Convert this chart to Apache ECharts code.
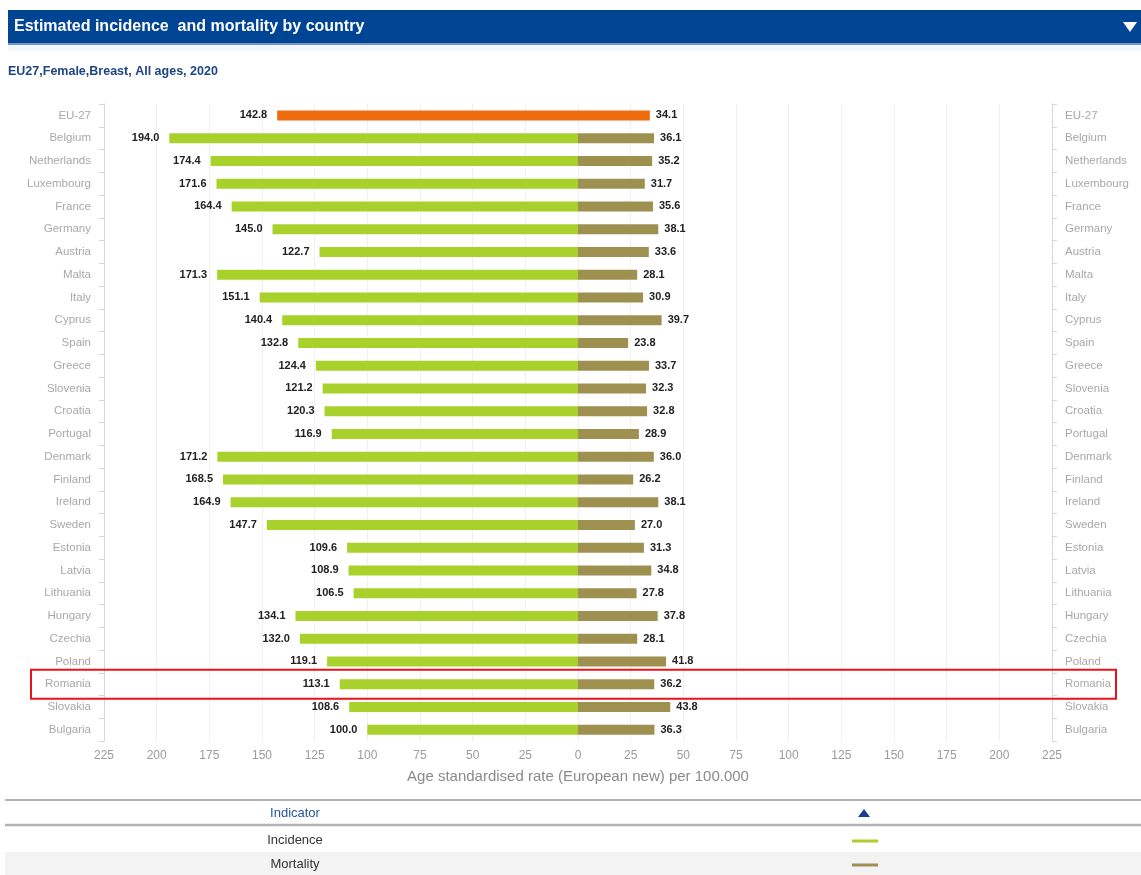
<!DOCTYPE html>
<html>
<head>
<meta charset="utf-8">
<title>Estimated incidence and mortality by country</title>
<script src="https://cdn.jsdelivr.net/npm/echarts@6/dist/echarts.min.js"></script>
<style>
  html, body { margin: 0; padding: 0; background: #fff; }
  #main { width: 1141px; height: 875px; }
</style>
</head>
<body>
<div id="main"></div>
<script>
// countries, top to bottom
var countries = ['EU-27', 'Belgium', 'Netherlands', 'Luxembourg', 'France', 'Germany', 'Austria',
  'Malta', 'Italy', 'Cyprus', 'Spain', 'Greece', 'Slovenia', 'Croatia', 'Portugal', 'Denmark',
  'Finland', 'Ireland', 'Sweden', 'Estonia', 'Latvia', 'Lithuania', 'Hungary', 'Czechia',
  'Poland', 'Romania', 'Slovakia', 'Bulgaria']
// age standardised rate per 100.000
var incidence = [142.8, 194.0, 174.4, 171.6, 164.4, 145.0, 122.7, 171.3, 151.1, 140.4, 132.8, 124.4,
  121.2, 120.3, 116.9, 171.2, 168.5, 164.9, 147.7, 109.6, 108.9, 106.5, 134.1, 132.0, 119.1,
  113.1, 108.6, 100.0]
var mortality = [34.1, 36.1, 35.2, 31.7, 35.6, 38.1, 33.6, 28.1, 30.9, 39.7, 23.8, 33.7, 32.3,
  32.8, 28.9, 36.0, 26.2, 38.1, 27.0, 31.3, 34.8, 27.8, 37.8, 28.1, 41.8, 36.2, 43.8, 36.3]
var highlightCountry = 'Romania'

var FONT = '"Liberation Sans", Arial, sans-serif'
var GREEN = '#a9d12b'
var OLIVE = '#9e9150'
var ORANGE = '#ee6c0e'

var chart = echarts.init(document.getElementById('main'))

function barItems(values, sign, color) {
  return values.map(function(v, i) {
    return {
      value: sign * v,
      itemStyle: { color: countries[i] === 'EU-27' ? ORANGE : color }
    }
  })
}

var yAxisBase = {
  type: 'category',
  data: countries,
  inverse: true,
  axisLine: { show: true, onZero: false, lineStyle: { color: '#d6d6d6' } },
  axisTick: { show: true, length: 5, lineStyle: { color: '#d6d6d6' } },
  axisLabel: { color: '#a8a8a8', fontSize: 11.5, fontFamily: FONT, margin: 13 },
  splitLine: { show: false }
}

var option = {
  animation: false,
  textStyle: { fontFamily: FONT },
  grid: { left: 104, right: 89, top: 104, bottom: 134, containLabel: false },
  xAxis: {
    type: 'value',
    min: -225,
    max: 225,
    interval: 25,
    name: 'Age standardised rate (European new) per 100.000',
    nameLocation: 'middle',
    nameGap: 28,
    nameTextStyle: { color: '#8a8a8a', fontSize: 15, fontFamily: FONT },
    axisLine: { show: false },
    axisTick: { show: false },
    axisLabel: {
      color: '#9a9a9a', fontSize: 12, fontFamily: FONT, margin: 9,
      formatter: function(v) { return Math.abs(v) }
    },
    splitLine: { show: true, lineStyle: { color: '#f0f0f0' } }
  },
  yAxis: [
    Object.assign({}, yAxisBase, { position: 'left' }),
    Object.assign({}, yAxisBase, { position: 'right' })
  ],
  series: [
    {
      name: 'Incidence',
      type: 'bar',
      barWidth: 10,
      barGap: '-100%',
      data: barItems(incidence, -1, GREEN),
      label: {
        show: true,
        position: 'left',
        distance: 10,
        color: '#222',
        fontSize: 11,
        fontWeight: 'bold',
        fontFamily: FONT,
        formatter: function(p) { return Math.abs(p.value).toFixed(1) }
      }
    },
    {
      name: 'Mortality',
      type: 'bar',
      barWidth: 10,
      barGap: '-100%',
      data: barItems(mortality, 1, OLIVE),
      label: {
        show: true,
        position: 'right',
        distance: 6,
        color: '#222',
        fontSize: 11,
        fontWeight: 'bold',
        fontFamily: FONT,
        formatter: function(p) { return p.value.toFixed(1) }
      }
    }
  ],
  graphic: [
    // header bar
    { type: 'rect', shape: { x: 8, y: 10, width: 1133, height: 33 }, style: { fill: '#004494' } },
    { type: 'rect', shape: { x: 8, y: 43, width: 1133, height: 2 }, style: { fill: '#6f95c6' } },
    { type: 'rect', shape: { x: 8, y: 45, width: 1133, height: 6 }, style: { fill: '#f2f7fc' } },
    {
      type: 'text', x: 14, y: 27,
      style: { text: 'Estimated incidence  and mortality by country', fill: '#fff', font: 'bold 16px ' + FONT, verticalAlign: 'middle' }
    },
    { type: 'polygon', shape: { points: [[1123, 22], [1137, 22], [1130, 32]] }, style: { fill: '#fff' } },
    {
      type: 'text', x: 8, y: 72,
      style: { text: 'EU27,Female,Breast, All ages, 2020', fill: '#1d4585', font: 'bold 12.5px ' + FONT, verticalAlign: 'middle' }
    },
    // legend table
    { type: 'rect', shape: { x: 5, y: 852, width: 1136, height: 23 }, style: { fill: '#f3f3f3' } },
    { type: 'line', shape: { x1: 5, y1: 800, x2: 1141, y2: 800 }, style: { stroke: '#b4b4b4', lineWidth: 2 } },
    { type: 'line', shape: { x1: 5, y1: 825, x2: 1141, y2: 825 }, style: { stroke: '#b4b4b4', lineWidth: 2.5 } },
    {
      type: 'text', x: 295, y: 813,
      style: { text: 'Indicator', fill: '#2855a3', font: '13px ' + FONT, align: 'center', verticalAlign: 'middle' }
    },
    { type: 'polygon', shape: { points: [[858, 817], [870, 817], [864, 809]] }, style: { fill: '#1a3d8f' } },
    {
      type: 'text', x: 295, y: 840,
      style: { text: 'Incidence', fill: '#333', font: '13px ' + FONT, align: 'center', verticalAlign: 'middle' }
    },
    { type: 'line', shape: { x1: 852, y1: 841, x2: 878, y2: 841 }, style: { stroke: GREEN, lineWidth: 3 } },
    {
      type: 'text', x: 295, y: 864,
      style: { text: 'Mortality', fill: '#333', font: '13px ' + FONT, align: 'center', verticalAlign: 'middle' }
    },
    { type: 'line', shape: { x1: 852, y1: 865, x2: 878, y2: 865 }, style: { stroke: OLIVE, lineWidth: 3 } }
  ]
}

chart.setOption(option)

// red frame round the highlighted country row
var rowY = chart.convertToPixel({ yAxisIndex: 0 }, highlightCountry)
chart.setOption({
  graphic: [{
    id: 'highlight',
    type: 'rect',
    shape: { x: 31, y: rowY - 14.5, width: 1085, height: 29 },
    style: { fill: 'none', stroke: '#e8141b', lineWidth: 2 },
    z: 100
  }]
})
</script>
</body>
</html>
